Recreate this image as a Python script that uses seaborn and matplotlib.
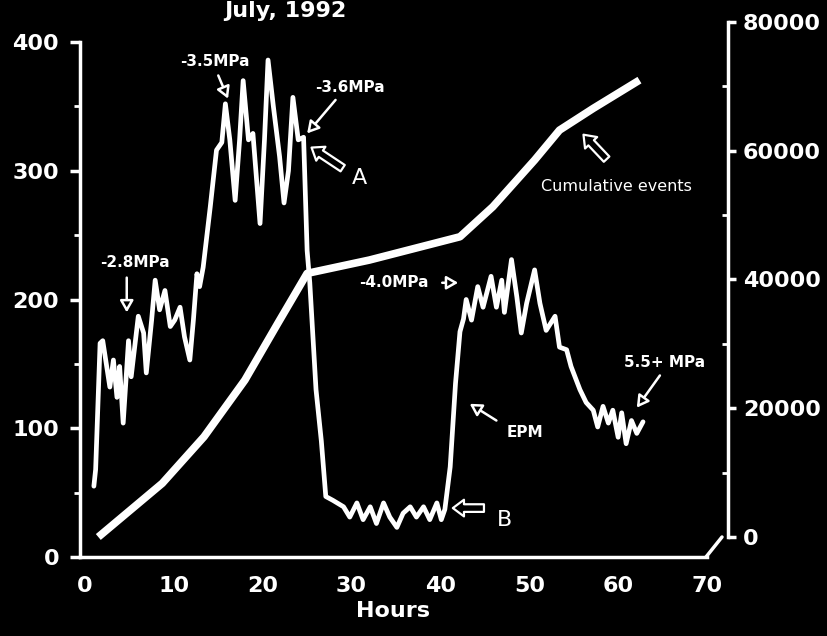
import matplotlib
matplotlib.use("Agg")
import matplotlib.pyplot as plt
import seaborn as sns
import pandas as pd
from matplotlib.lines import Line2D
from matplotlib.ticker import MultipleLocator, FixedLocator

# ---------------- data ----------------
hours = [1.0, 1.2, 1.7, 2.0, 2.8, 3.2, 3.6, 3.9, 4.3, 4.9, 5.2, 6.0, 6.6, 6.9, 7.5, 7.9,
         8.4, 9.0, 9.6, 10.1, 10.7, 11.2, 11.8, 12.2, 12.6, 12.9, 13.3, 14.1, 14.8, 15.4,
         15.8, 16.3, 16.9, 17.4, 17.8, 18.4, 18.9, 19.7, 20.2, 20.6, 21.2, 21.9, 22.4,
         22.9, 23.4, 24.0, 24.6, 25.0, 25.3, 26.0, 26.6, 27.1, 27.9, 29.1, 29.8, 30.6,
         31.3, 32.1, 32.8, 33.6, 34.3, 35.1, 35.8, 36.6, 37.3, 38.1, 38.8, 39.6, 40.1,
         40.5, 41.1, 41.7, 42.2, 42.6, 42.9, 43.5, 44.2, 44.8, 45.7, 46.3, 46.9, 47.2,
         48.0, 48.6, 49.1, 49.7, 50.6, 51.2, 51.9, 52.9, 53.4, 54.2, 54.7, 55.7, 56.4,
         57.2, 57.7, 58.3, 58.9, 59.4, 60.0, 60.4, 60.9, 61.5, 62.1, 62.8]
signal = [55, 68, 166, 168, 132, 153, 124, 148, 104, 168, 140, 187, 174, 143, 184, 215,
          192, 207, 179, 184, 194, 171, 153, 184, 220, 210, 225, 272, 316, 322,
          352, 324, 277, 324, 370, 324, 329, 259, 324, 386, 350, 311, 275,
          300, 357, 324, 326, 238, 213, 130, 90, 47, 44, 39, 31, 42,
          29, 39, 26, 42, 31, 23, 34, 39, 31, 39, 29, 42, 29,
          37, 70, 135, 175, 185, 200, 184, 210, 194, 218, 194, 215, 190,
          231, 202, 174, 197, 223, 197, 176, 187, 163, 161, 148, 130, 120,
          114, 101, 117, 104, 114, 93, 112, 88, 106, 96, 105]

cum_hours = [1.5, 8.7, 13.4, 18.0, 21.7, 25.0, 32.0, 42.2, 45.9, 50.6, 53.4, 57.2, 62.4]
cum_events = [0, 8340, 15580, 24380, 33190, 40950, 43020, 46640, 51300, 58550, 63200,
              66580, 70970]

left_ticks = [0, 100, 200, 300, 400]
right_ticks = [0, 20000, 40000, 60000, 80000]
x_ticks = [0, 10, 20, 30, 40, 50, 60, 70]

df_sig = pd.DataFrame({"Hours": hours, "signal": signal})
df_cum = pd.DataFrame({"Hours": cum_hours, "events": cum_events})

# ---------------- style ----------------
sns.set_style("dark")
plt.rcParams["font.family"] = ["DejaVu Sans"]
W, H = 827, 636
fig = plt.figure(figsize=(W / 100, H / 100), dpi=100, facecolor="black")

def fx(px):
    return px / W

def fy(py):
    return 1 - py / H

# main axes: left spine x=80 px, bottom y=557 px, right edge 707, top 22
ax = fig.add_axes([fx(80), fy(557), fx(707) - fx(80), fy(22) - fy(557)])
ax.set_facecolor("black")
ax.grid(False)
ax.set_xlim(-0.56, 70)
ax.set_ylim(0, 400 + 20 * 400 / 515)

sns.lineplot(data=df_sig, x="Hours", y="signal", ax=ax, color="white",
             linewidth=3.4, sort=False, estimator=None)

ax2 = ax.twinx()
ax2.set_facecolor("none")
ax2.grid(False)
ax2.set_ylim(-20 * 80000 / 515, 80000)
sns.lineplot(data=df_cum, x="Hours", y="events", ax=ax2, color="white",
             linewidth=5.5, sort=False, estimator=None, solid_capstyle="butt")
ax2.set_xlim(-0.56, 70)

for a in (ax, ax2):
    a.spines["top"].set_visible(False)
    for s in a.spines.values():
        s.set_color("white")
        s.set_linewidth(2.5)
ax.spines["right"].set_visible(False)
ax2.spines["left"].set_visible(False)
ax2.spines["bottom"].set_visible(False)
ax.spines["left"].set_bounds(0, 400)
ax2.spines["right"].set_bounds(0, 80000)
ax2.spines["right"].set_position(("outward", 15))

tick_font = dict(fontsize=16, fontweight="bold", color="white")
ax.yaxis.set_major_locator(FixedLocator(left_ticks))
ax.yaxis.set_minor_locator(FixedLocator([50, 150, 250, 350]))
ax.set_yticklabels([str(t) for t in left_ticks], **tick_font)
ax.tick_params(axis="y", which="major", direction="out", length=7, width=2.5,
               color="white", pad=8)
ax.tick_params(axis="y", which="minor", direction="out", length=4, width=2,
               color="white")

ax.xaxis.set_major_locator(FixedLocator(x_ticks))
ax.xaxis.set_minor_locator(MultipleLocator(2))
ax.set_xticklabels([str(t) for t in x_ticks], **tick_font)
ax.tick_params(axis="x", which="major", direction="out", length=8, width=2.5,
               color="white", pad=6)
ax.tick_params(axis="x", which="minor", direction="out", length=4, width=2,
               color="white")
ax.set_xlabel("Hours", fontsize=16, fontweight="bold", color="white", labelpad=3)
ax.set_ylabel("")

ax2.yaxis.set_major_locator(FixedLocator(right_ticks))
ax2.yaxis.set_minor_locator(FixedLocator([10000, 30000, 50000, 70000]))
ax2.set_yticklabels([str(t) for t in right_ticks], **tick_font)
ax2.tick_params(axis="y", which="major", direction="out", length=6, width=2.5,
                color="white", pad=5)
ax2.tick_params(axis="y", which="minor", direction="in", length=4, width=2,
                color="white")
ax2.set_ylabel("")
ax2.set_xlabel("")

# diagonal connector between x axis and offset right axis
fig.add_artist(Line2D([fx(706), fx(722)], [fy(557), fy(537)], color="white",
                      linewidth=2.5, transform=fig.transFigure))

# title at top edge
fig.text(fx(285), fy(1), "July, 1992", ha="center", va="top",
         fontsize=16, fontweight="bold", color="white")

# ---------------- annotations ----------------
lab = dict(color="white", fontsize=11, fontweight="bold", ha="center", va="center")
hollow = dict(arrowstyle="-|>,head_length=0.7,head_width=0.4", color="white",
              fc="black", lw=1.8, shrinkA=0, shrinkB=0)

def note(text, txy, tail, head, **kw):
    ax.text(*txy, text, **{**lab, **kw})
    ax.annotate("", xy=head, xytext=tail, arrowprops=hollow)

note("-3.5MPa", (14.6, 384.5), (15.0, 374), (16.1, 356))
note("-3.6MPa", (29.8, 365), (28.2, 355), (25.0, 329))
note("-2.8MPa", (5.6, 229), (4.7, 217), (4.7, 190))
note("5.5+ MPa", (65.2, 151), (64.7, 141), (62.1, 116))
note("EPM", (49.5, 97), (46.3, 106), (43.3, 119))
ax.text(34.8, 213, "-4.0MPa", **lab)
ax.annotate("", xy=(42.0, 213), xytext=(40.2, 213), arrowprops=hollow)

block = dict(arrowstyle="simple,head_length=0.8,head_width=1.2,tail_width=0.55",
             fc="black", ec="white", lw=1.6, shrinkA=0, shrinkB=0)
ax.annotate("", xy=(25.5, 318), xytext=(29.0, 302), arrowprops=block)
ax.text(30.9, 294, "A", color="white", fontsize=16, ha="center", va="center")
ax.annotate("", xy=(41.4, 38), xytext=(44.9, 38), arrowprops=block)
ax.text(47.2, 29, "B", color="white", fontsize=16, ha="center", va="center")
ax.annotate("", xy=(56.1, 328), xytext=(58.7, 309), arrowprops=block)
ax.text(59.8, 288, "Cumulative events", color="white", fontsize=11.5,
        ha="center", va="center")

fig.savefig("out.png", dpi=100, facecolor="black")
